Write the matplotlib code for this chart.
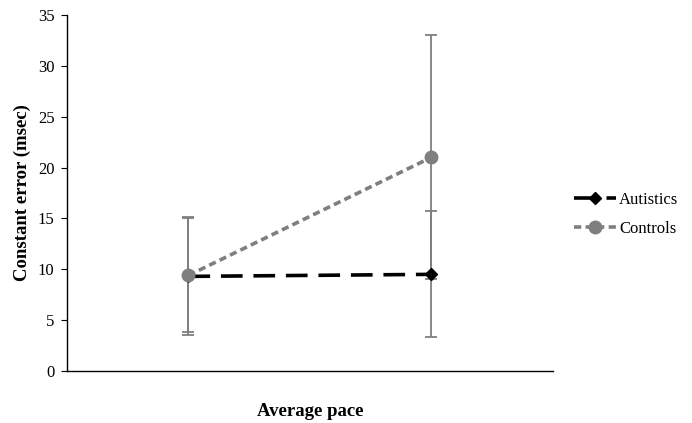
import matplotlib
matplotlib.use("Agg")
import matplotlib.pyplot as plt

categories = ["Average pace", "Average pace 2"]
x_pos = [0, 1]
autistics = [9.3, 9.5]
autistics_err = [5.8, 6.2]
controls = [9.4, 21.0]
controls_err = [5.6, 12.0]

plt.rcParams['font.family'] = ['Liberation Serif', 'DejaVu Serif']

fig = plt.figure(figsize=(6.92, 4.23), dpi=100)
ax = fig.add_axes([0.0968, 0.123, 0.702, 0.8415])

ax.errorbar(x_pos, autistics, yerr=autistics_err, fmt='none', ecolor='#7f7f7f',
            elinewidth=1.3, capsize=4.5, capthick=1.3, zorder=1)
ax.errorbar(x_pos, controls, yerr=controls_err, fmt='none', ecolor='#7f7f7f',
            elinewidth=1.3, capsize=4.5, capthick=1.3, zorder=1)

ax.plot(x_pos, autistics, color='black', linestyle=(0, (6, 3)), linewidth=2.6,
        marker='D', markersize=6, label='Autistics', zorder=2)
ax.plot(x_pos, controls, color='#7f7f7f', linestyle=(0, (2, 1.2)), linewidth=2.6,
        marker='o', markersize=9, label='Controls', zorder=3)

ax.set_xlim(-0.5, 1.5)
ax.set_ylim(0, 35)
ax.set_yticks(range(0, 36, 5))
ax.set_xticks([])
ax.spines['top'].set_visible(False)
ax.spines['right'].set_visible(False)
ax.spines['left'].set_linewidth(1.0)
ax.spines['bottom'].set_linewidth(1.0)
ax.tick_params(axis='y', labelsize=12, length=4, direction='out', pad=5)

ax.set_xlabel('Average pace', fontsize=13.5, fontweight='bold', labelpad=23)
ax.set_ylabel('Constant error (msec)', fontsize=13.5, fontweight='bold', labelpad=5)

ax.legend(loc='center left', bbox_to_anchor=(1.02, 0.44),
          frameon=False, fontsize=12, handlelength=2.5, labelspacing=0.8,
          handletextpad=0.2, borderpad=0.2)

fig.savefig('out.png', dpi=100)
